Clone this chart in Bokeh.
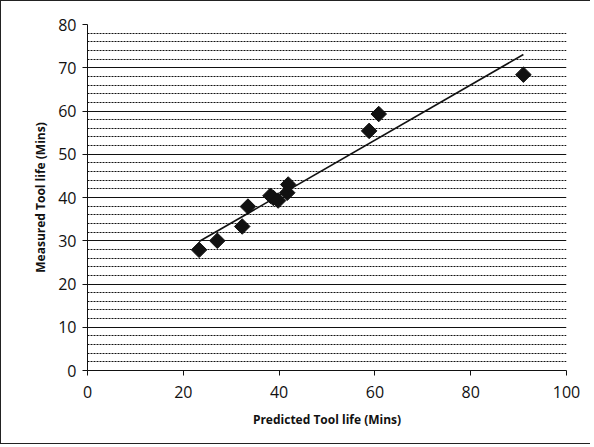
import numpy as np
from bokeh.plotting import figure
from bokeh.models import Range1d, FixedTicker, ColumnDataSource
from bokeh.embed import file_html
from bokeh.resources import INLINE

# Data
predicted = [23.3, 27.1, 32.3, 33.5, 38.2, 38.8, 39.8, 41.7, 41.9, 58.8, 60.8, 91.0]
measured = [27.9, 30.0, 33.3, 37.9, 40.4, 39.9, 39.3, 41.1, 43.0, 55.4, 59.3, 68.4]
x_ticks = [0, 20, 40, 60, 80, 100]
y_ticks = [0, 10, 20, 30, 40, 50, 60, 70, 80]
y_minor = [2, 4, 6, 8]

W, H = 590, 444
p = figure(width=W, height=H, output_backend="svg", toolbar_location=None,
           x_range=Range1d(0, 100), y_range=Range1d(0, 80),
           min_border_left=86, min_border_right=25, min_border_top=23, min_border_bottom=75)
p.styles = {"border-left": "1px solid #222", "border-top": "1px solid #222",
            "border-bottom": "1px solid #222"}
p.outline_line_color = None
p.background_fill_color = "white"
p.border_fill_color = "white"

# grid
p.xgrid.visible = False
p.ygrid.grid_line_color = "#111111"
p.ygrid.grid_line_width = 1
p.ygrid.minor_grid_line_color = "#111111"
p.ygrid.minor_grid_line_dash = "2 1"
p.ygrid.minor_grid_line_width = 1

p.xaxis.ticker = FixedTicker(ticks=x_ticks)
p.yaxis.ticker = FixedTicker(ticks=y_ticks, minor_ticks=[t + m for t in y_ticks[:-1] for m in y_minor])

for ax in (p.xaxis[0], p.yaxis[0]):
    ax.axis_line_color = "#111"
    ax.axis_line_width = 1
    ax.major_tick_line_color = "#111"
    ax.major_tick_out = 5
    ax.major_tick_in = 0
    ax.minor_tick_out = 0
    ax.minor_tick_in = 0
    ax.major_label_text_font = "Open Sans"
    ax.major_label_text_font_size = "16px"
    ax.major_label_text_color = "#111"
    ax.axis_label_text_font = "Open Sans"
    ax.axis_label_text_font_size = "12px"
    ax.axis_label_text_font_style = "bold"
    ax.axis_label_text_color = "#111"

p.xaxis.axis_label = "Predicted Tool life (Mins)"
p.yaxis.axis_label = "Measured Tool life (Mins)"
p.xaxis.major_label_standoff = 10
p.yaxis.major_label_standoff = 6
p.xaxis.axis_label_standoff = 10
p.yaxis.axis_label_standoff = 6

# linear trendline
xs = np.array(predicted)
ys = np.array(measured)
m, b = np.polyfit(xs, ys, 1)
tx = np.array([xs.min(), xs.max()])
p.line(tx, m * tx + b, line_color="#111", line_width=1.6)

src = ColumnDataSource(dict(x=predicted, y=measured))
p.scatter("x", "y", source=src, marker="square", angle=np.pi / 4, size=11,
          fill_color="#111", line_color="#111")

open("out.html", "w").write(file_html(p, INLINE))
